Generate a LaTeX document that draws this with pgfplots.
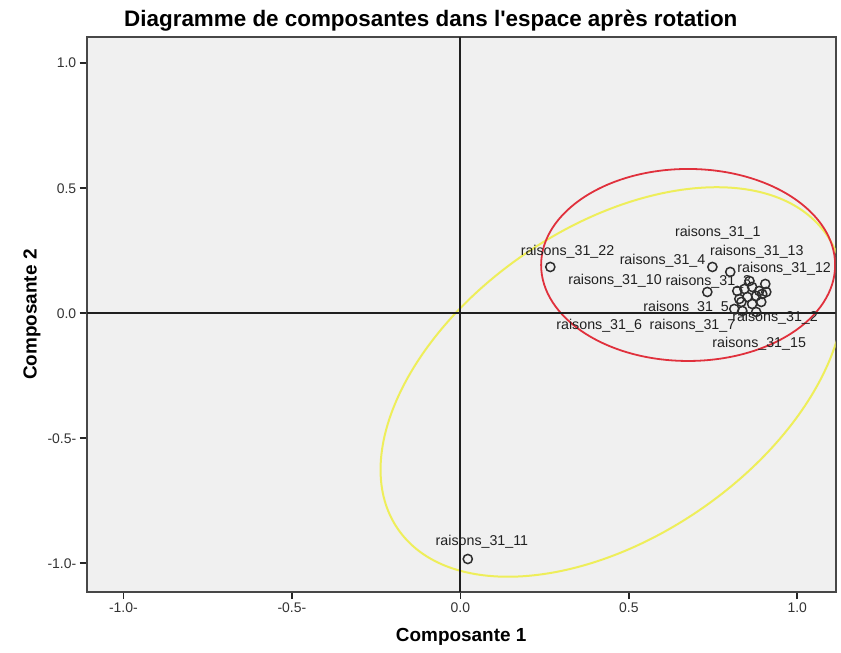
\documentclass[border=0pt]{standalone}
\usepackage{pgfplots}
\pgfplotsset{compat=1.18}
\usepackage{fontspec}
\setmainfont{Liberation Sans}[Ligatures=TeXOff]
\definecolor{bg}{HTML}{F0F0F0}
\definecolor{ellred}{HTML}{E0303C}
\definecolor{ellyel}{HTML}{EEEE5A}
\definecolor{tickgray}{HTML}{333333}
\definecolor{lblgray}{HTML}{202020}

\begin{document}
\begin{tikzpicture}
\useasboundingbox (-86.7bp,-61bp) rectangle (754.3bp,592bp);
\begin{axis}[
  scale only axis, width=749bp, height=554.8bp,
  at={(0,0)}, anchor=south west,
  xmin=-1.109, xmax=1.114, ymin=-1.115, ymax=1.104,
  axis background/.style={fill=bg},
  axis line style={draw=black!72, line width=2bp},
  xtick={-1,-0.5,0,0.5,1}, ytick={-1,-0.5,0,0.5,1},
  xticklabels={-1.0-,-0.5-,0.0,0.5,1.0},
  yticklabels={-1.0-,-0.5-,0.0,0.5,1.0},
  tick align=outside, tick pos=left, major tick length=7bp,
  tick style={draw=black!85, line width=1.6bp},
  ticklabel style={font=\fontsize{14}{16}\selectfont, text=tickgray},
  title={Diagramme de composantes dans l'espace après rotation},
  title style={at={(axis description cs:0,1)}, anchor=base west, xshift=34bp, yshift=5bp,
    font=\bfseries\fontsize{22.5}{25}\selectfont},
  xlabel={Composante 1}, ylabel={Composante 2},
  xlabel style={at={(axis description cs:0.5,0)}, anchor=base, yshift=-49bp,
    font=\bfseries\fontsize{19}{22}\selectfont},
  ylabel style={at={(axis description cs:-0.0668,0.5)}, anchor=base,
    font=\bfseries\fontsize{19}{22}\selectfont},
  clip=true,
]
% ellipses (annotations)
\draw[ellyel, line width=2bp, rotate around={34.4:(axis cs:0.451,-0.275)}]
  (axis cs:0.451,-0.275) ellipse [x radius=260bp, y radius=155bp];
\draw[ellred, line width=1.8bp]
  (axis cs:0.676,0.193) ellipse [x radius=147bp, y radius=96bp];
% reference lines
\draw[black!88, line width=2.2bp] (axis cs:0,-1.115) -- (axis cs:0,1.104);
\draw[black!88, line width=2.2bp] (axis cs:-1.109,0) -- (axis cs:1.114,0);
% loadings
\addplot[only marks, mark=o, mark size=4.6bp, mark options={draw=black!82, line width=1.5bp, fill=none}]
  coordinates {
  (0.267,0.185) (0.748,0.185) (0.801,0.165) (0.858,0.129) (0.905,0.117)
  (0.733,0.085) (0.822,0.089) (0.843,0.097) (0.866,0.105) (0.887,0.089)
  (0.908,0.085) (0.828,0.057) (0.852,0.065) (0.878,0.069) (0.896,0.077)
  (0.834,0.045) (0.866,0.037) (0.893,0.045) (0.813,0.017) (0.837,0.009)
  (0.878,0.005) (0.022,-0.983)
  };
% point labels
\begin{scope}[every node/.style={font=\fontsize{14.3}{16}\selectfont, text=lblgray, inner sep=0pt}]
\node at (axis cs:0.764,0.321) {raisons\_31\_1};
\node at (axis cs:0.318,0.246) {raisons\_31\_22};
\node at (axis cs:0.880,0.246) {raisons\_31\_13};
\node at (axis cs:0.600,0.210) {raisons\_31\_4};
\node at (axis cs:0.961,0.177) {raisons\_31\_12};
\node at (axis cs:0.459,0.130) {raisons\_31\_10};
\node at (axis cs:0.736,0.124) {raisons\_31\_3};
\node at (axis cs:0.670,0.020) {raisons\_31\_5};
\node at (axis cs:0.412,-0.050) {raisons\_31\_6};
\node at (axis cs:0.689,-0.050) {raisons\_31\_7};
\node at (axis cs:0.934,-0.020) {raisons\_31\_2};
\node at (axis cs:0.887,-0.123) {raisons\_31\_15};
\node at (axis cs:0.064,-0.916) {raisons\_31\_11};
\end{scope}
\end{axis}
\end{tikzpicture}
\end{document}
